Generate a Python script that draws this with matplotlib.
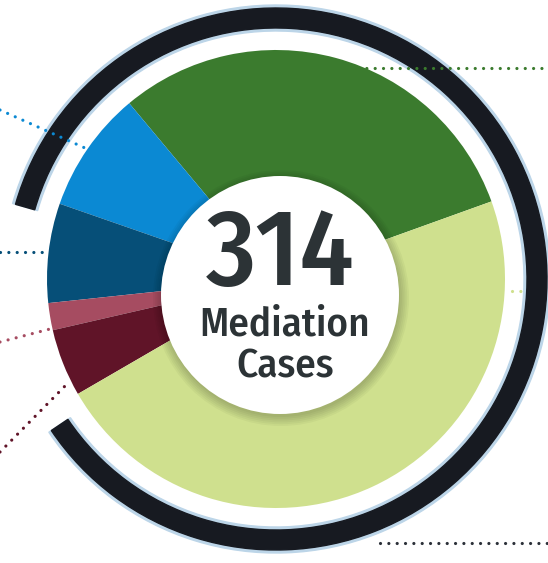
import matplotlib.pyplot as plt
from matplotlib.patches import Wedge, Circle

# data
labels = ['Settled', 'Withdrawn', 'Referred', 'Other', 'Pending', 'Not settled']
cases = [96, 27, 22, 6, 15, 148]
colors = ['#3b7b2e', '#0b89d3', '#064f78', '#a64c61', '#601428', '#cfe08e']
total_text = '314'
caption = ['Mediation', 'Cases']

fam = ['Fira Sans Condensed', 'Roboto Condensed', 'DejaVu Sans']

W, H = 548, 563
fig = plt.figure(figsize=(W / 100, H / 100), dpi=100)
ax = fig.add_axes([0, 0, 1, 1])

cx, cy, R = 276, 284, 229

# outer ring (gap on the left)
ax.add_patch(Wedge((cx, cy), 274, 214, 524, width=26, color='#bcd5e8', zorder=1))
ax.add_patch(Wedge((cx, cy), 271, 214, 524, width=20, color='#171a21', zorder=2))

# leader lines
dot = dict(lw=2.3, linestyle=(0, (0.01, 2.6)), dash_capstyle='round', zorder=6)
ax.plot([358, 548], [H - 68, H - 68], color=colors[0], **dot)
ax.plot([0, 85], [H - 110, H - 148], color=colors[1], **dot)
ax.plot([0, 45], [H - 252, H - 252], color=colors[2], **dot)
ax.plot([0, 50], [H - 342, H - 329], color=colors[3], **dot)
ax.plot([0, 66], [H - 452, H - 385], color=colors[4], **dot)
ax.plot([512, 526], [H - 291, H - 291], color=colors[5], **dot)
ax.plot([380, 548], [H - 543, H - 543], color='#2b3038', **dot)

# donut slices
ax.pie(cases, colors=colors, startangle=19.8, counterclock=True,
       center=(cx, cy), radius=R, frame=True,
       wedgeprops=dict(linewidth=0, zorder=3))
ax.set_xlim(0, W)
ax.set_ylim(0, H)
ax.set_aspect('equal')
ax.axis('off')

# centre circle with soft shadow
ccx, ccy, cr = 280, H - 295, 119
for i in range(6):
    ax.add_patch(Circle((ccx + 1, ccy - 3), cr + 9 - i * 1.8, color='black', alpha=0.035,
                        lw=0, zorder=4))
ax.add_patch(Circle((ccx, ccy), cr, color='white', lw=0, zorder=5))

ax.text(280, H - 285, total_text, ha='center', va='baseline', fontsize=78,
        family=fam, weight=500, color='#2c3336', zorder=7)
ax.text(285, H - 336, caption[0], ha='center', va='baseline', fontsize=29.5,
        family=fam, weight=500, color='#2c3336', zorder=7)
ax.text(285, H - 377, caption[1], ha='center', va='baseline', fontsize=29.5,
        family=fam, weight=500, color='#2c3336', zorder=7)

fig.savefig('out.png', dpi=100)
